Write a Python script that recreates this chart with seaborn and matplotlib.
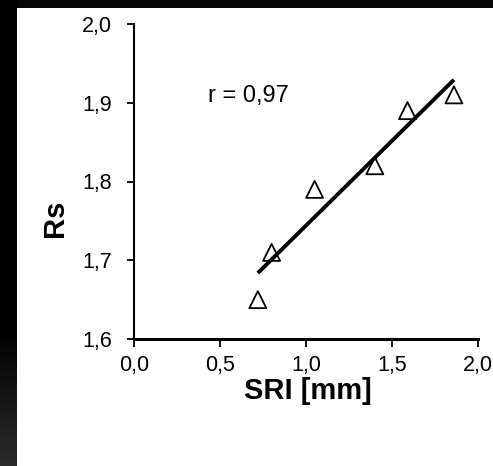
import numpy as np
import pandas as pd
import matplotlib
matplotlib.use("Agg")
import matplotlib.pyplot as plt
from matplotlib.ticker import FuncFormatter
import seaborn as sns

# Surface roughness index vs. Rs
sri_mm = [0.72, 0.80, 1.05, 1.40, 1.59, 1.86]
rs = [1.65, 1.71, 1.79, 1.82, 1.89, 1.91]
x_ticks = [0.0, 0.5, 1.0, 1.5, 2.0]
y_ticks = [1.6, 1.7, 1.8, 1.9, 2.0]
x_label = "SRI [mm]"
y_label = "Rs"

df = pd.DataFrame({"SRI": sri_mm, "Rs": rs})
r_value = np.corrcoef(df["SRI"], df["Rs"])[0, 1]
r_text = f"r = {r_value:.2f}".replace(".", ",")

sns.set_theme(style="ticks")
plt.rcParams["font.family"] = ["Liberation Sans", "DejaVu Sans"]

W, H = 493, 466
fig = plt.figure(figsize=(W / 100, H / 100), dpi=100, facecolor="black")

# page background: dark frame on top/left with a soft gradient, white page
bg = np.ones((H, W, 3))
bg[:8, :, :] = 0.02
rows = np.arange(H)
shade = np.clip((rows - 330) / (H - 330), 0, 1) * 0.17
bg[:, :17, :] = shade[:, None, None]
bax = fig.add_axes([0, 0, 1, 1], zorder=-10)
bax.imshow(bg, aspect="auto", interpolation="nearest")
bax.set_axis_off()

ax = fig.add_axes([134 / W, 1 - 339 / H, (478 - 134) / W, (339 - 24) / H])
ax.set_facecolor("none")

sns.regplot(data=df, x="SRI", y="Rs", ci=None, scatter=False, truncate=True,
            ax=ax, line_kws=dict(color="black", lw=2.8, solid_capstyle="butt"))
sns.scatterplot(data=df, x="SRI", y="Rs", marker="^", s=150,
                facecolor="none", edgecolor="black", linewidth=1.3,
                ax=ax, zorder=3)

ax.set_xlim(0, 2.0)
ax.set_ylim(1.6, 2.0)
ax.set_xticks(x_ticks)
ax.set_yticks(y_ticks)
comma = FuncFormatter(lambda v, _: f"{v:.1f}".replace(".", ","))
ax.xaxis.set_major_formatter(comma)
ax.yaxis.set_major_formatter(comma)

for side in ("top", "right"):
    ax.spines[side].set_visible(False)
ax.spines["left"].set_linewidth(1.5)
ax.spines["bottom"].set_linewidth(2.2)
ax.spines["left"].set_color("black")
ax.spines["bottom"].set_color("black")

ax.tick_params(axis="y", direction="out", length=5, width=1.3, pad=11,
               labelsize=15.5, colors="black")
ax.tick_params(axis="x", direction="out", length=5.5, width=1.3, pad=6,
               labelsize=15.5, colors="black")

ax.set_xlabel(x_label, fontsize=21, fontweight="bold", color="black")
ax.set_ylabel(y_label, fontsize=21, fontweight="bold", color="black")
ax.xaxis.set_label_coords(0.506, -0.12)
ax.yaxis.set_label_coords(-0.19, 0.384)

ax.text(0.43, 1.909, r_text, fontsize=17, ha="left", va="center", color="black")

fig.savefig("out.png", dpi=100, facecolor=fig.get_facecolor())
